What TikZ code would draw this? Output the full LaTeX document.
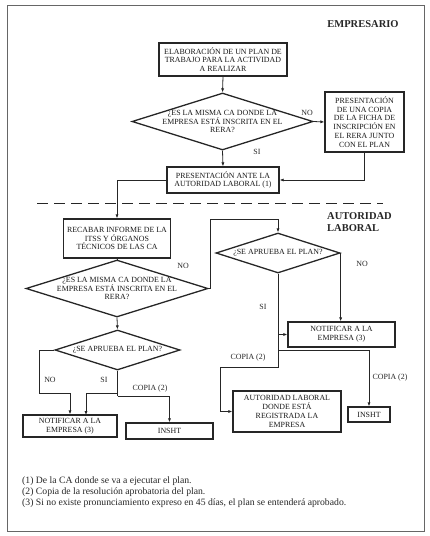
\documentclass[tikz,border=0pt]{standalone}
\usepackage{fontspec}
\setmainfont{Liberation Serif}
\usetikzlibrary{arrows.meta,shapes.geometric}
\newcommand\boxfnt{\fontsize{7.9}{8.8}\selectfont}
\newcommand\lblfnt{\fontsize{7.9}{9}\selectfont}
\newcommand\notefnt{\fontsize{9.7}{11}\selectfont}
\newcommand\headfnt{\fontsize{10.5}{12}\selectfont\bfseries}
\tikzset{
  box/.style={draw=black!85, line width=1.3pt, inner sep=1pt, align=center, font=\boxfnt, text=black!90},
  dia/.style={diamond, draw=black!85, line width=1.3pt, inner sep=0pt},
  dtext/.style={align=center, font=\boxfnt, inner sep=0pt, text=black!90},
  conn/.style={draw=black!85, line width=0.8pt},
  arr/.style={conn, -{Latex[length=4pt,width=3.2pt]}},
  lbl/.style={font=\lblfnt, inner sep=0pt, text=black!85},
  fn/.style={font=\notefnt, inner sep=0pt, anchor=west, text=black!85},
  head/.style={font=\headfnt, inner sep=0pt, text=black!85},
}
\begin{document}
\begin{tikzpicture}[x=1pt,y=-1pt]
\useasboundingbox (0,0) rectangle (430,536);
\draw[black!60, line width=1pt] (7.5,5) rectangle (424,531.5);

% headings
\node[head] (hemp) at (363,24) {EMPRESARIO};
\node[head, align=left, anchor=west] (haut) at (327,222) {AUTORIDAD\\LABORAL};

% empresario part
\node[box, minimum width=128pt, minimum height=33pt] (b1) at (223,59.5) {ELABORACIÓN DE UN PLAN DE\\TRABAJO PARA LA ACTIVIDAD\\A REALIZAR};
\node[dia, minimum width=181pt, minimum height=57pt] (d1) at (222.5,121.5) {};
\node[dtext] (d1t) at (d1) {¿ES LA MISMA CA DONDE LA\\EMPRESA ESTÁ INSCRITA EN EL\\RERA?};
\node[box, minimum width=79pt, minimum height=60pt] (b2) at (364.5,122) {PRESENTACIÓN\\DE UNA COPIA\\DE LA FICHA DE\\INSCRIPCIÓN EN\\EL RERA JUNTO\\CON EL PLAN};
\node[box, minimum width=112pt, minimum height=26pt] (b3) at (223,180) {PRESENTACIÓN ANTE LA\\AUTORIDAD LABORAL (1)};

\draw[arr] (b1.south) -- (d1.north);
\draw[arr] (d1.south) -- (b3.north);
\draw[arr] (d1.east) -- (b2.west);
\draw[arr] (b2.south) |- (b3.east);
\node[lbl] (lno1) at (307,113) {NO};
\node[lbl] (lsi1) at (257,152) {SI};

% dashed separator
\coordinate (dl) at (37,203);
\coordinate (dr) at (383,203);
\draw[black!85, line width=1pt, dash pattern=on 11pt off 6pt] (dl) -- (dr);

% autoridad laboral part
\node[box, minimum width=107pt, minimum height=39pt] (rec) at (117,238.5) {RECABAR INFORME DE LA\\ITSS Y ÓRGANOS\\TÉCNICOS DE LAS CA};
\draw[arr] (b3.west) -| (rec.north);

\node[dia, minimum width=182pt, minimum height=57pt] (d2) at (117,288.5) {};
\node[dtext] (d2t) at (d2) {¿ES LA MISMA CA DONDE LA\\EMPRESA ESTÁ INSCRITA EN EL\\RERA?};
\draw[conn] (rec.south) -- (d2.north);

\node[dia, minimum width=124pt, minimum height=40pt] (d3) at (278,253) {};
\node[dtext] (d3t) at (d3) {¿SE APRUEBA EL PLAN?};
\coordinate (k1) at (210,219);
\draw[arr] (d2.east) -| (k1) -| (d3.north);
\node[lbl] (lno2) at (183,266) {NO};

\node[box, minimum width=107pt, minimum height=25pt] (nr) at (341.5,334.5) {NOTIFICAR A LA\\EMPRESA (3)};
\node[box, minimum width=108pt, minimum height=41pt] (al) at (287,411.5) {AUTORIDAD LABORAL\\DONDE ESTÁ\\REGISTRADA LA\\EMPRESA};
\node[box, minimum width=42pt, minimum height=15pt] (insr) at (369,414.5) {INSHT};

\draw[arr] (d3.east) -- (d3.east |- nr.north);
\node[lbl] (lno3) at (362,264) {NO};
\coordinate (k2) at (278,367);
\coordinate (k3) at (220,367);
\draw[arr] (d3.south) -- (k2) -- (k3) |- (al.west);
\draw[arr] (d3.south |- nr.west) -- (nr.west);
\coordinate (k4) at (278,350);
\draw[arr] (k4) -| (insr.north);
\node[lbl] (lsi3) at (263,307) {SI};
\node[lbl] (lcop3) at (248,358) {COPIA (2)};
\node[lbl] (lcop4) at (390,378) {COPIA (2)};

% left lower part
\node[dia, minimum width=125pt, minimum height=40pt] (d4) at (117.5,350) {};
\node[dtext] (d4t) at (d4) {¿SE APRUEBA EL PLAN?};
\draw[arr] (d2.south) -- (d4.north);

\node[box, minimum width=94pt, minimum height=22pt] (nl) at (70,426) {NOTIFICAR A LA\\EMPRESA (3)};
\node[box, minimum width=87pt, minimum height=16pt] (insl) at (169.5,431) {INSHT};

\coordinate (k5) at (39,393);
\draw[arr] (d4.west) -| (k5) -| (nl.north);
\coordinate (k6) at (117.5,396);
\coordinate (k7) at (117.5,393);
\coordinate (k8) at (86,415);
\draw[conn] (d4.south) -- (k6);
\draw[arr] (k6) -| (insl.north);
\draw[arr] (k7) -| (k8);
\node[lbl] (lno4) at (50,380) {NO};
\node[lbl] (lsi4) at (104,380) {SI};
\node[lbl] (lcop1) at (150,389) {COPIA (2)};

% footnotes
\node[fn] (f1) at (22,481) {(1) De la CA donde se va a ejecutar el plan.};
\node[fn] (f2) at (22,492) {(2) Copia de la resolución aprobatoria del plan.};
\node[fn] (f3) at (22,503) {(3) Si no existe pronunciamiento expreso en 45 días, el plan se entenderá aprobado.};
\end{tikzpicture}
\end{document}
